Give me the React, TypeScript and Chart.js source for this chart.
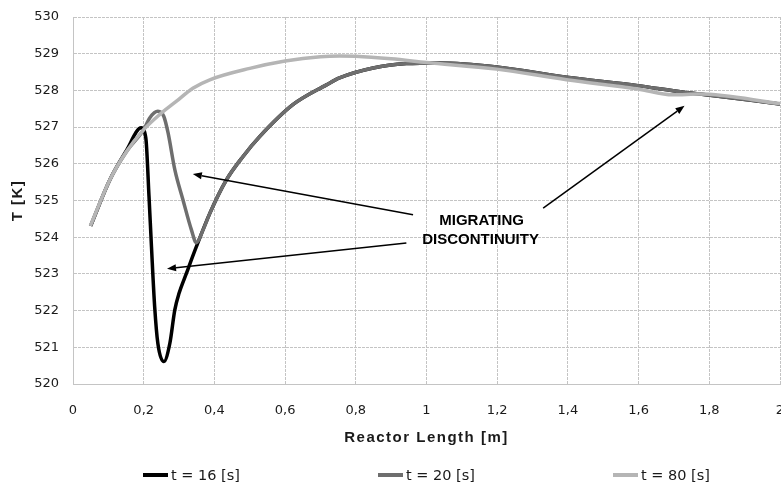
import React, { useEffect, useRef } from 'react';
import { Chart, registerables } from 'chart.js';

Chart.register(...registerables);

// ---- Data ----
const SERIES_LABELS = ['t = 16 [s]', 't = 20 [s]', 't = 80 [s]'];
const SERIES_COLORS = ['#000000', '#6e6e6e', '#b5b5b5'];

const X_T16 = [0.05, 0.104, 0.151, 0.193, 0.206, 0.215, 0.222, 0.231, 0.24, 0.257, 0.274, 0.288, 0.3, 0.321, 0.349, 0.387, 0.434, 0.481, 0.528, 0.622, 0.717, 0.754, 0.849, 0.943, 1.037, 1.198, 1.396, 1.598, 1.726, 1.773, 2.0];
const T_T16 = [524.31, 525.56, 526.36, 526.98, 526.7, 525.11, 523.74, 522.11, 521.11, 520.61, 521.11, 522.02, 522.47, 523.02, 523.74, 524.65, 525.56, 526.2, 526.74, 527.61, 528.15, 528.34, 528.61, 528.73, 528.75, 528.64, 528.36, 528.13, 527.95, 527.9, 527.63];

const X_T20 = [0.05, 0.104, 0.151, 0.2, 0.217, 0.24, 0.257, 0.269, 0.288, 0.311, 0.335, 0.349, 0.368, 0.387, 0.434, 0.481, 0.528, 0.622, 0.717, 0.754, 0.849, 0.943, 1.037, 1.198, 1.396, 1.598, 1.726, 1.773, 2.0];
const T_T20 = [524.31, 525.56, 526.33, 526.93, 527.25, 527.43, 527.29, 526.84, 525.84, 525.02, 524.2, 523.85, 524.2, 524.65, 525.56, 526.2, 526.74, 527.61, 528.15, 528.34, 528.61, 528.73, 528.75, 528.64, 528.36, 528.13, 527.95, 527.9, 527.63];

const X_T80 = [0.049, 0.104, 0.151, 0.2, 0.245, 0.292, 0.339, 0.387, 0.5, 0.6, 0.7, 0.754, 0.8, 0.9, 1.0, 1.198, 1.396, 1.598, 1.697, 1.773, 2.0];
const T_T80 = [524.31, 525.56, 526.33, 526.93, 527.34, 527.7, 528.06, 528.29, 528.6, 528.8, 528.92, 528.94, 528.93, 528.86, 528.76, 528.58, 528.29, 528.04, 527.88, 527.9, 527.64];

const X_TICK_VALUES = [0, 0.2, 0.4, 0.6, 0.8, 1, 1.2, 1.4, 1.6, 1.8, 2];
const X_TICK_LABELS = ['0', '0,2', '0,4', '0,6', '0,8', '1', '1,2', '1,4', '1,6', '1,8', '2'];
const Y_TICK_VALUES = [520, 521, 522, 523, 524, 525, 526, 527, 528, 529, 530];

const X_TITLE = 'Reactor Length [m]';
const Y_TITLE = 'T [K]';

// annotation (data units)
const NOTE_LINES = ['MIGRATING', 'DISCONTINUITY'];
const NOTE_X = [1.156, 1.153];
const NOTE_Y = [524.45, 523.93];
const ARROW_FROM_X = [0.962, 0.943, 1.33];
const ARROW_FROM_Y = [524.61, 523.84, 524.79];
const ARROW_TO_X = [0.339, 0.266, 1.73];
const ARROW_TO_Y = [525.72, 523.14, 527.58];

const GRID_COLOR = '#c4c4c4';
const TEXT_COLOR = '#1a1a1a';

const toPoints = (xs: number[], ys: number[]) => xs.map((x, i) => ({ x, y: ys[i] }));

const overlayPlugin = {
  id: 'overlay',
  afterDraw(chart: any) {
    const { ctx, chartArea, scales } = chart;
    const xs = scales.x;
    const ys = scales.y;
    ctx.save();

    // arrows
    ctx.strokeStyle = '#000';
    ctx.fillStyle = '#000';
    ctx.lineWidth = 1.5;
    for (let i = 0; i < ARROW_FROM_X.length; i++) {
      const x1 = xs.getPixelForValue(ARROW_FROM_X[i]);
      const y1 = ys.getPixelForValue(ARROW_FROM_Y[i]);
      const x2 = xs.getPixelForValue(ARROW_TO_X[i]);
      const y2 = ys.getPixelForValue(ARROW_TO_Y[i]);
      const a = Math.atan2(y2 - y1, x2 - x1);
      const hl = 9, hw = 3.5;
      const bx = x2 - hl * Math.cos(a);
      const by = y2 - hl * Math.sin(a);
      ctx.beginPath();
      ctx.moveTo(x1, y1);
      ctx.lineTo(bx, by);
      ctx.stroke();
      ctx.beginPath();
      ctx.moveTo(x2, y2);
      ctx.lineTo(bx + hw * Math.sin(a), by - hw * Math.cos(a));
      ctx.lineTo(bx - hw * Math.sin(a), by + hw * Math.cos(a));
      ctx.closePath();
      ctx.fill();
    }

    // annotation text
    ctx.font = 'bold 15px "Liberation Sans", Arial, sans-serif';
    ctx.textAlign = 'center';
    ctx.textBaseline = 'middle';
    ctx.fillStyle = '#000';
    NOTE_LINES.forEach((t, i) => {
      ctx.fillText(t, xs.getPixelForValue(NOTE_X[i]), ys.getPixelForValue(NOTE_Y[i]));
    });

    // axis titles
    const cx = (chartArea.left + chartArea.right) / 2;
    const cy = (chartArea.top + chartArea.bottom) / 2;
    ctx.fillStyle = TEXT_COLOR;
    try { (ctx as any).letterSpacing = '1.5px'; } catch (e) {}
    ctx.font = 'bold 15px "Liberation Sans", Arial, sans-serif';
    ctx.fillText(X_TITLE, cx, chartArea.bottom + 54);
    ctx.save();
    ctx.translate(17.5, cy);
    ctx.rotate(-Math.PI / 2);
    ctx.fillText(Y_TITLE, 0, 0);
    ctx.restore();
    try { (ctx as any).letterSpacing = '0px'; } catch (e) {}

    // legend
    const ds = chart.data.datasets;
    const step = 235;
    ctx.font = '14.5px "DejaVu Sans", sans-serif';
    const itemW = 28 + ctx.measureText(ds[ds.length - 1].label).width;
    const total = step * (ds.length - 1) + itemW;
    const sx = cx - total / 2;
    const ly = chartArea.bottom + 91;
    ds.forEach((d: any, i: number) => {
      const x0 = sx + i * step;
      ctx.strokeStyle = d.borderColor;
      ctx.lineWidth = 4;
      ctx.beginPath();
      ctx.moveTo(x0, ly);
      ctx.lineTo(x0 + 25, ly);
      ctx.stroke();
      ctx.fillStyle = TEXT_COLOR;
      ctx.textAlign = 'left';
      ctx.textBaseline = 'middle';
      ctx.fillText(d.label, x0 + 28, ly + 1);
    });

    ctx.restore();
  },
};

export default function App() {
  const ref = useRef<HTMLCanvasElement | null>(null);

  useEffect(() => {
    document.body.style.margin = '0';
    const canvas = ref.current!;
    const seriesX = [X_T16, X_T20, X_T80];
    const seriesY = [T_T16, T_T20, T_T80];
    const chart = new Chart(canvas, {
      type: 'line',
      data: {
        datasets: SERIES_LABELS.map((label, i) => ({
          label,
          data: toPoints(seriesX[i], seriesY[i]),
          borderColor: SERIES_COLORS[i],
          backgroundColor: SERIES_COLORS[i],
          borderWidth: 3.5,
          pointRadius: 0,
          fill: false,
          cubicInterpolationMode: 'monotone',
          order: SERIES_LABELS.length - i,
        })),
      },
      options: {
        animation: false,
        responsive: false,
        devicePixelRatio: 1,
        layout: { autoPadding: false, padding: { top: 17, right: 1, bottom: 0, left: 0 } },
        plugins: { legend: { display: false }, tooltip: { enabled: false } },
        scales: {
          x: {
            type: 'linear',
            min: 0,
            max: 2,
            afterBuildTicks: (s: any) => { s.ticks = X_TICK_VALUES.map((v) => ({ value: v })); },
            afterFit: (s: any) => { s.height = 104; s.paddingLeft = 0; s.paddingRight = 0; },
            ticks: {
              padding: 19,
              color: TEXT_COLOR,
              font: { family: '"DejaVu Sans", sans-serif', size: 13 },
              maxRotation: 0,
              autoSkip: false,
              callback: (_v: any, i: number) => X_TICK_LABELS[i],
            },
            grid: { color: GRID_COLOR, lineWidth: 1, drawTicks: false },
            border: { color: GRID_COLOR, dash: [3, 1] },
          },
          y: {
            type: 'linear',
            min: 520,
            max: 530,
            afterBuildTicks: (s: any) => { s.ticks = Y_TICK_VALUES.map((v) => ({ value: v })); },
            afterFit: (s: any) => { s.width = 73; s.paddingTop = 0; s.paddingBottom = 0; },
            ticks: {
              padding: 14,
              color: TEXT_COLOR,
              font: { family: '"DejaVu Sans", sans-serif', size: 13 },
              callback: (v: any) => String(v),
            },
            grid: { color: GRID_COLOR, lineWidth: 1, drawTicks: false },
            border: { color: GRID_COLOR, dash: [3, 1] },
          },
        },
      },
      plugins: [overlayPlugin],
    } as any);
    return () => chart.destroy();
  }, []);

  return (
    <div style={{ width: 781, height: 488 }}>
      <canvas ref={ref} width={781} height={488} style={{ display: 'block' }} />
    </div>
  );
}
